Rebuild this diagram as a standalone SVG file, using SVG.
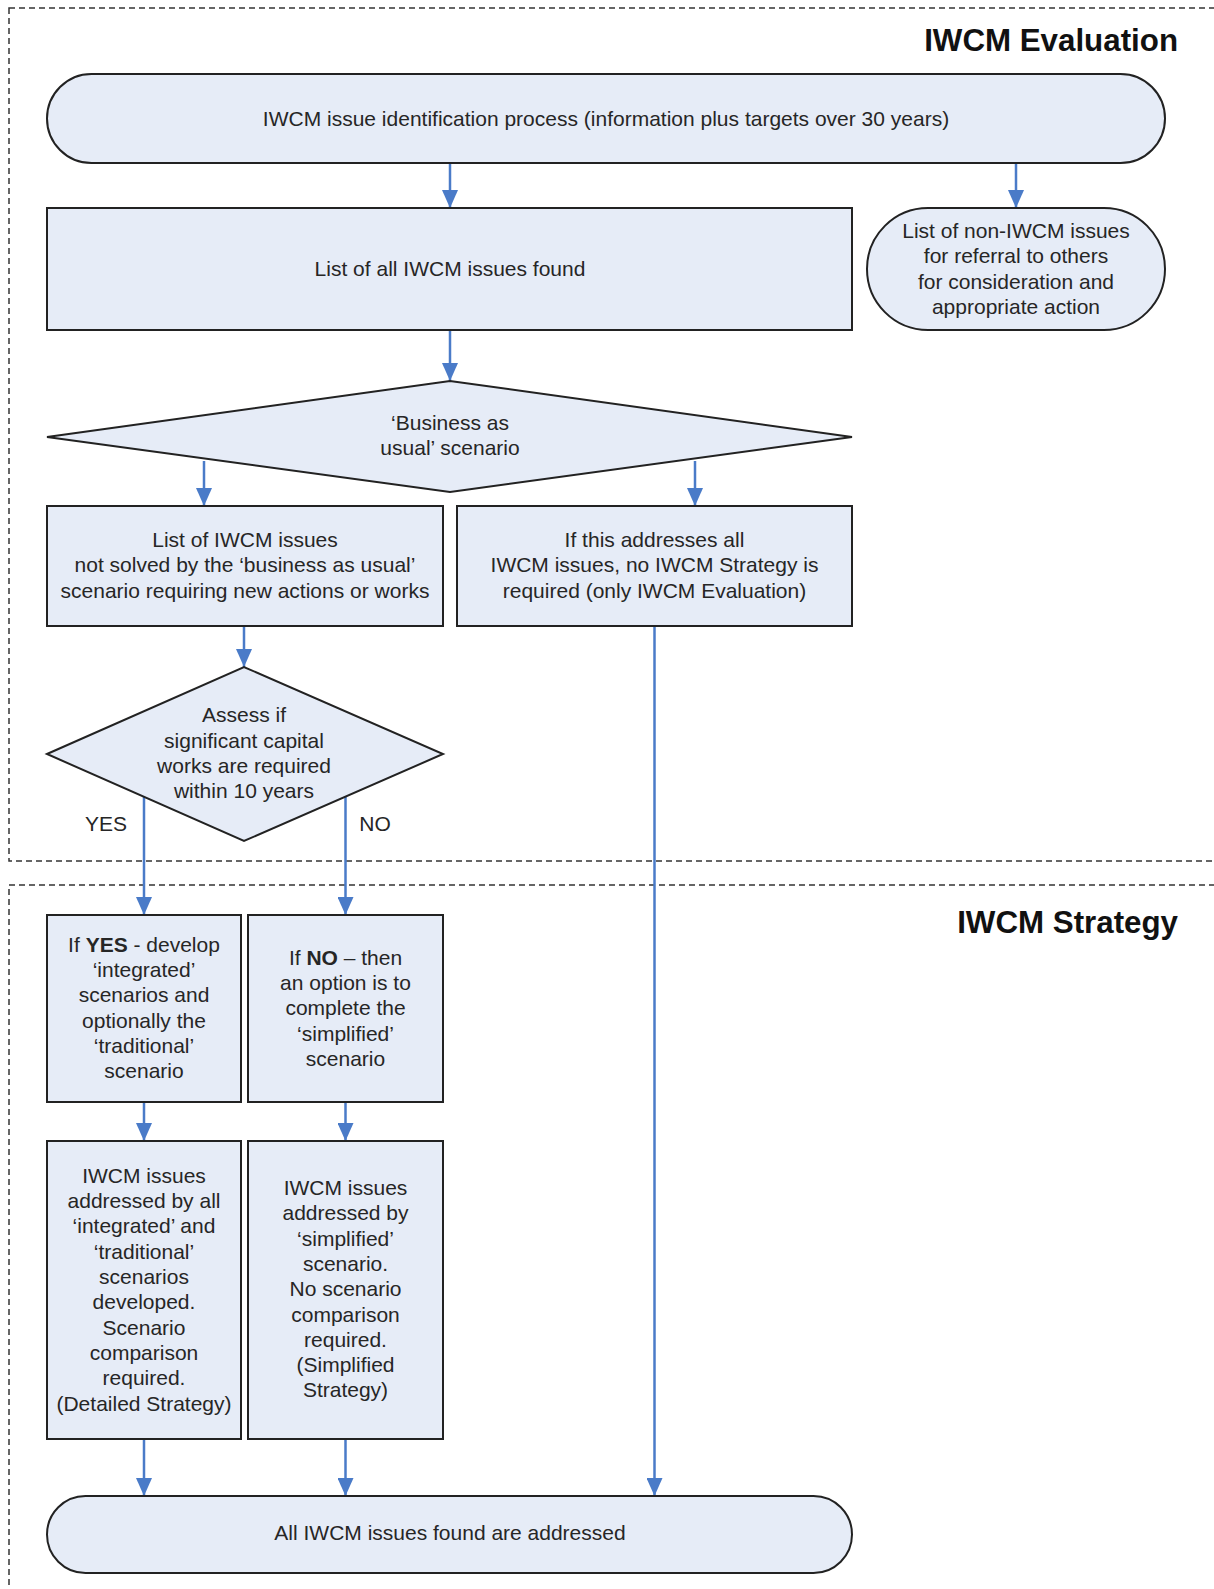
<svg xmlns="http://www.w3.org/2000/svg" width="1214" height="1589" viewBox="0 0 1214 1589">
<style>
.nd{fill:#e6ecf7;stroke:#222;stroke-width:2}
.t{font-family:"Liberation Sans",Arial,sans-serif;font-size:21px;fill:#262626;text-anchor:middle}
.ttl{font-family:"Liberation Sans",Arial,sans-serif;font-size:31.3px;font-weight:bold;fill:#111;text-anchor:end}
.b{font-weight:bold}
.c{fill:none;stroke:#4a7bc8;stroke-width:2.5}
.dash{fill:none;stroke:#333;stroke-width:1.5;stroke-dasharray:6,4}
</style>
<defs>
<marker id="arr" markerUnits="userSpaceOnUse" markerWidth="18" markerHeight="16" refX="18" refY="8" orient="auto" viewBox="0 0 18 16">
<path d="M0,0 L18,8 L0,16 Z" fill="#4a7bc8"/>
</marker>
</defs>
<rect width="1214" height="1589" fill="#fff"/>
<g id="frames">
<rect class="dash" x="9" y="8" width="1230" height="853"/>
<rect class="dash" x="9" y="885" width="1230" height="720"/>
<text class="ttl" x="1178" y="51">IWCM Evaluation</text>
<text class="ttl" x="1178" y="933">IWCM Strategy</text>
</g>
<g id="connectors">
<line class="c" x1="450" y1="163" x2="450" y2="208" marker-end="url(#arr)"/>
<line class="c" x1="1016" y1="163" x2="1016" y2="208" marker-end="url(#arr)"/>
<line class="c" x1="450" y1="330" x2="450" y2="381" marker-end="url(#arr)"/>
<line class="c" x1="204" y1="461" x2="204" y2="506" marker-end="url(#arr)"/>
<line class="c" x1="695" y1="461" x2="695" y2="506" marker-end="url(#arr)"/>
<line class="c" x1="244" y1="626" x2="244" y2="667" marker-end="url(#arr)"/>
<line class="c" x1="144" y1="797" x2="144" y2="915" marker-end="url(#arr)"/>
<line class="c" x1="345.5" y1="797" x2="345.5" y2="915" marker-end="url(#arr)"/>
<line class="c" x1="144" y1="1102" x2="144" y2="1141" marker-end="url(#arr)"/>
<line class="c" x1="345.5" y1="1102" x2="345.5" y2="1141" marker-end="url(#arr)"/>
<line class="c" x1="144" y1="1439" x2="144" y2="1496" marker-end="url(#arr)"/>
<line class="c" x1="345.5" y1="1439" x2="345.5" y2="1496" marker-end="url(#arr)"/>
<line class="c" x1="654.5" y1="626" x2="654.5" y2="1496" marker-end="url(#arr)"/>
<text class="t" x="106" y="831">YES</text>
<text class="t" x="375" y="831">NO</text>
</g>
<g id="n-identify">
<rect class="nd" x="47" y="74" width="1118" height="89" rx="44.5"/>
<text class="t" x="606" y="126">IWCM issue identification process (information plus targets over 30 years)</text>
</g>
<g id="n-list-all">
<rect class="nd" x="47" y="208" width="805" height="122"/>
<text class="t" x="450" y="276">List of all IWCM issues found</text>
</g>
<g id="n-non-iwcm">
<rect class="nd" x="867" y="208" width="298" height="122" rx="61"/>
<text class="t" x="1016" y="238">List of non-IWCM issues</text>
<text class="t" x="1016" y="263">for referral to others</text>
<text class="t" x="1016" y="289">for consideration and</text>
<text class="t" x="1016" y="314">appropriate action</text>
</g>
<g id="n-bau">
<polygon class="nd" points="47,437 450,381 852,437 450,492"/>
<text class="t" x="450" y="430">‘Business as</text>
<text class="t" x="450" y="455">usual’ scenario</text>
</g>
<g id="n-not-solved">
<rect class="nd" x="47" y="506" width="396" height="120"/>
<text class="t" x="245" y="547">List of IWCM issues</text>
<text class="t" x="245" y="572">not solved by the ‘business as usual’</text>
<text class="t" x="245" y="598">scenario requiring new actions or works</text>
</g>
<g id="n-addresses-all">
<rect class="nd" x="457" y="506" width="395" height="120"/>
<text class="t" x="654.5" y="547">If this addresses all</text>
<text class="t" x="654.5" y="572">IWCM issues, no IWCM Strategy is</text>
<text class="t" x="654.5" y="598">required (only IWCM Evaluation)</text>
</g>
<g id="n-assess">
<polygon class="nd" points="47,754 244,667 443,754 244,841"/>
<text class="t" x="244" y="722">Assess if</text>
<text class="t" x="244" y="748">significant capital</text>
<text class="t" x="244" y="773">works are required</text>
<text class="t" x="244" y="798">within 10 years</text>
</g>
<g id="n-yes">
<rect class="nd" x="47" y="915" width="194" height="187"/>
<text class="t" x="144" y="951.5">If <tspan class="b">YES</tspan> - develop</text>
<text class="t" x="144" y="977">‘integrated’</text>
<text class="t" x="144" y="1002">scenarios and</text>
<text class="t" x="144" y="1027.5">optionally the</text>
<text class="t" x="144" y="1053">‘traditional’</text>
<text class="t" x="144" y="1078">scenario</text>
</g>
<g id="n-no">
<rect class="nd" x="248" y="915" width="195" height="187"/>
<text class="t" x="345.5" y="964.5">If <tspan class="b">NO</tspan> – then</text>
<text class="t" x="345.5" y="990">an option is to</text>
<text class="t" x="345.5" y="1015">complete the</text>
<text class="t" x="345.5" y="1041">‘simplified’</text>
<text class="t" x="345.5" y="1066">scenario</text>
</g>
<g id="n-detailed">
<rect class="nd" x="47" y="1141" width="194" height="298"/>
<text class="t" x="144" y="1182.5">IWCM issues</text>
<text class="t" x="144" y="1208">addressed by all</text>
<text class="t" x="144" y="1233">‘integrated’ and</text>
<text class="t" x="144" y="1258.5">‘traditional’</text>
<text class="t" x="144" y="1284">scenarios</text>
<text class="t" x="144" y="1309">developed.</text>
<text class="t" x="144" y="1334.5">Scenario</text>
<text class="t" x="144" y="1360">comparison</text>
<text class="t" x="144" y="1385">required.</text>
<text class="t" x="144" y="1410.5">(Detailed Strategy)</text>
</g>
<g id="n-simplified">
<rect class="nd" x="248" y="1141" width="195" height="298"/>
<text class="t" x="345.5" y="1194.5">IWCM issues</text>
<text class="t" x="345.5" y="1220">addressed by</text>
<text class="t" x="345.5" y="1245.5">‘simplified’</text>
<text class="t" x="345.5" y="1271">scenario.</text>
<text class="t" x="345.5" y="1296">No scenario</text>
<text class="t" x="345.5" y="1321.5">comparison</text>
<text class="t" x="345.5" y="1347">required.</text>
<text class="t" x="345.5" y="1372">(Simplified</text>
<text class="t" x="345.5" y="1397">Strategy)</text>
</g>
<g id="n-all-addressed">
<rect class="nd" x="47" y="1496" width="805" height="77" rx="38.5"/>
<text class="t" x="450" y="1540">All IWCM issues found are addressed</text>
</g>
</svg>
